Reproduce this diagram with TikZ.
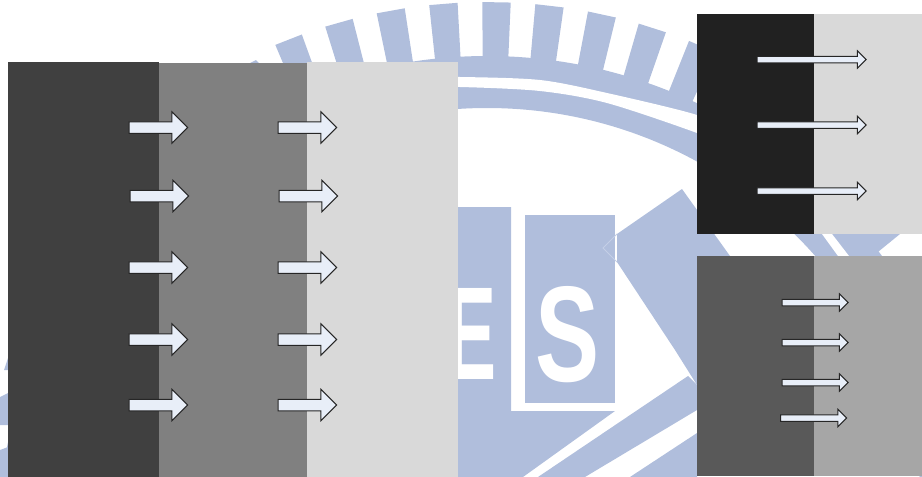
\documentclass[tikz,border=0pt]{standalone}
\usepackage{fontspec}
\usepackage{graphicx}
\setmainfont{Liberation Sans}
\usetikzlibrary{shapes.arrows}
\definecolor{wmblue}{HTML}{B0BEDC}
\definecolor{wmpale}{HTML}{C4CFE6}
\definecolor{arrowfill}{HTML}{E8EEF8}
\tikzset{
  wm/.style={fill=wmblue,draw=none},
  wmw/.style={fill=white,draw=none},
  bigarrow/.style={shape=single arrow,draw=black!85,line width=1pt,fill=arrowfill,inner sep=0pt,outer sep=0pt,
    text height=10.5pt,text depth=0pt,text width=0pt,minimum height=58.5pt,minimum width=30pt,
    single arrow head extend=10pt,single arrow tip angle=90},
  longarrow/.style={shape=single arrow,draw=black!85,line width=1pt,fill=arrowfill,inner sep=0pt,outer sep=0pt,
    text height=5.5pt,text depth=0pt,text width=0pt,minimum height=109pt,minimum width=16pt,
    single arrow head extend=5.5pt,single arrow tip angle=90},
  shortarrow/.style={longarrow,minimum height=66pt}
}
\begin{document}
\begin{tikzpicture}[x=1pt,y=-1pt]
\useasboundingbox (0,0) rectangle (922,477);
\begin{scope}
\clip (0,0) rectangle (922,477);
% watermark: rays and ring
\foreach \t in {-21.4,-15.8,-10.2,-4.6,1,6.6,12.2,17.7,23.3}{
  \fill[wm] ({487+480*sin(\t-1.5)},{546-480*cos(\t-1.5)})
    -- ({487+544*sin(\t-1.5)},{546-544*cos(\t-1.5)})
    -- ({487+544*sin(\t+1.5)},{546-544*cos(\t+1.5)})
    -- ({487+480*sin(\t+1.5)},{546-480*cos(\t+1.5)}) -- cycle;
}
\fill[wm] (250,63) -- (256,60) -- (259,63) -- cycle;
\fill[wm,even odd rule] (487,546) circle[radius=490] (487,546) circle[radius=438];
\fill[wmw] plot[smooth] coordinates {(420,78) (460,77) (540,80) (607,93) (697,115) (720,130)}
  -- plot[smooth] coordinates {(720,145) (697,133) (607,103) (540,91) (460,87) (420,88)} -- cycle;
\fill[wmw] (822,234) -- (832,234) -- (849,256) -- (838,256) -- cycle;
\fill[wm] (860,234) -- (900,234) -- (873,256) -- (852,256) -- cycle;
% watermark: shield
\fill[wm] (440,207) -- (511,207) -- (511,411) -- (615,411) -- (523,477) -- (440,477) -- cycle;
\fill[wm] (525,215) rectangle (615,403);
\fill[wm] (617,234) -- (682,189) -- (730,256) -- (697,256) -- (697,385) -- (675,350) -- (617,262) -- cycle;
\draw[wmpale,line width=1pt] (617,234) -- (603,248) -- (617,262);
\fill[wm] (688,376) -- (697,385) -- (697,410) -- (585,477) -- (538,477) -- cycle;
\fill[wm] (697,433) -- (630,477) -- (697,477) -- cycle;
\node[text=white,inner sep=0pt,anchor=center] (letterE) at (472,333.5) {\resizebox{50pt}{91pt}{\bfseries E}};
\node[text=white,inner sep=0pt,anchor=center] (letterS) at (567.5,335) {\resizebox{64pt}{95pt}{\bfseries S}};
% watermark: left margin
\fill[wm] (4,370) -- (8,358) -- (8,370) -- cycle;
\fill[wm] (0,397) -- (8,393) -- (8,425) -- (0,425) -- cycle;
\fill[wm] (0,450) -- (8,447) -- (8,477) -- (0,477) -- cycle;
\end{scope}
% panels, left
\fill[fill=black!75] (8,62) rectangle (158.5,477);
\fill[fill=black!50] (158.5,63) rectangle (307,477);
\fill[fill=black!15] (307,62) rectangle (458,477);
% panels, top right
\fill[fill=black!87] (697,14) rectangle (814,234);
\fill[fill=black!15] (814,14) rectangle (922,234);
% panels, bottom right
\fill[fill=black!65] (697,256) rectangle (814,476);
\fill[fill=black!35] (814,256) rectangle (922,476);
% arrows
\node[bigarrow] (a1) at (155.5,127.5) {};
\node[bigarrow] (b1) at (304.5,127.5) {};
\node[bigarrow] (a2) at (156.5,196) {};
\node[bigarrow] (b2) at (305.5,196) {};
\node[bigarrow] (a3) at (155.5,267.5) {};
\node[bigarrow] (b3) at (304.5,267.5) {};
\node[bigarrow] (a4) at (155.5,339.5) {};
\node[bigarrow] (b4) at (304.5,339.5) {};
\node[bigarrow] (a5) at (155.5,405) {};
\node[bigarrow] (b5) at (304.5,405) {};
\node[longarrow] (c1) at (810,59.5) {};
\node[longarrow] (c2) at (810,125) {};
\node[longarrow] (c3) at (810,191) {};
\node[shortarrow] (d1) at (813.5,302.5) {};
\node[shortarrow] (d2) at (813.5,342.5) {};
\node[shortarrow] (d3) at (813.5,382.5) {};
\node[shortarrow] (d4) at (812,418) {};
\end{tikzpicture}
\end{document}
